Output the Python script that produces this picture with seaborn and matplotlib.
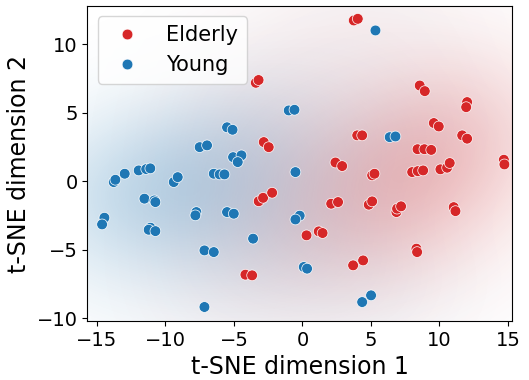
import numpy as np
import pandas as pd
import matplotlib
matplotlib.use('Agg')
import matplotlib.pyplot as plt
from matplotlib.colors import to_rgb
import seaborn as sns

# t-SNE coordinates
elderly_x = [-3.4, -3.2, 3.75, 4.04, 8.56, 8.93, 12.02, 11.95, 9.59, 9.95,
             4.0, 4.36, 11.66, 12.02, 8.4, 8.9, 9.4, -2.82, -2.46, 2.41, 2.9,
             5.09, 5.26, 8.01, 8.42, 8.81, 10.07, 10.56, 10.75, 14.7, 14.74,
             -3.19, -2.87, -2.21, 2.1, 2.6, 4.84, 5.09, 6.86, 6.91, 7.2,
             11.04, 11.17, 0.3, 1.19, 1.47, 8.32, 8.37, 3.7, 4.43, -4.16, -3.67]
elderly_y = [7.2, 7.4, 11.75, 11.87, 7.0, 6.59, 5.79, 5.42, 4.26, 4.01,
             3.36, 3.36, 3.36, 3.12, 2.35, 2.35, 2.3, 2.87, 2.5, 1.38, 1.12,
             0.44, 0.56, 0.68, 0.75, 0.8, 0.88, 1.0, 1.34, 1.58, 1.24,
             -1.45, -1.2, -0.83, -1.63, -1.51, -1.7, -1.46, -2.24, -1.99, -1.82,
             -1.88, -2.17, -3.94, -3.65, -3.77, -4.91, -5.16, -6.13, -5.77, -6.81, -6.86]

young_x = [-1.0, -0.58, 5.33, -5.5, -5.1, -7.5, -6.96, -5.06, -4.45, -4.72,
           6.37, 6.79, -13.77, -13.65, -12.97, -11.95, -11.4, -11.1, -9.39, -9.1,
           -6.47, -6.04, -5.69, -0.51, -11.53, -10.8, -10.73, -14.45, -14.62,
           -7.74, -7.81, -5.5, -5.01, -0.2, -0.51, -11.09, -11.22, -10.73, -3.6,
           -7.15, -6.47, 0.1, 0.34, -7.15, 4.36, 5.01]
young_y = [5.18, 5.23, 11.02, 3.95, 3.77, 2.5, 2.63, 1.77, 1.9, 1.41,
           3.23, 3.28, -0.05, 0.12, 0.56, 0.8, 0.9, 0.95, -0.05, 0.31,
           0.56, 0.51, 0.51, 0.68, -1.26, -1.39, -1.51, -2.65, -3.14,
           -2.24, -2.48, -2.24, -2.36, -2.5, -2.78, -3.38, -3.53, -3.63, -4.18,
           -5.04, -5.16, -6.25, -6.37, -9.17, -8.81, -8.32]

groups = ['Elderly', 'Young']
colors = {'Elderly': '#d62728', 'Young': '#1f77b4'}

df = pd.DataFrame({
    'x': elderly_x + young_x,
    'y': elderly_y + young_y,
    'group': ['Elderly'] * len(elderly_x) + ['Young'] * len(young_x),
})

XLIM = (-15.7, 15.3)
YLIM = (-10.2, 12.8)


def kde_grid(xs, ys, gx, gy, adjust=1.7):
    # gaussian kde with scott bandwidth, same idea as scipy's gaussian_kde
    pts = np.vstack([xs, ys])
    n = pts.shape[1]
    factor = n ** (-1.0 / 6) * adjust
    cov = np.cov(pts) * factor ** 2
    inv = np.linalg.inv(cov)
    X, Y = np.meshgrid(gx, gy)
    dens = np.zeros_like(X)
    for px, py in pts.T:
        dx, dy = X - px, Y - py
        dens += np.exp(-0.5 * (inv[0, 0] * dx * dx + 2 * inv[0, 1] * dx * dy
                               + inv[1, 1] * dy * dy))
    return dens / dens.max()


fig = plt.figure(figsize=(5.29, 3.8), dpi=100)
ax = fig.add_axes([0.165, 0.155, 0.803, 0.829])

# soft density shading behind the points
gx = np.linspace(XLIM[0], XLIM[1], 300)
gy = np.linspace(YLIM[0], YLIM[1], 220)
for g in groups:
    sub = df[df['group'] == g]
    d = kde_grid(sub['x'].values, sub['y'].values, gx, gy)
    rgba = np.zeros(d.shape + (4,))
    rgba[..., :3] = to_rgb(colors[g])
    rgba[..., 3] = 0.32 * d ** 0.8
    ax.imshow(rgba, extent=(XLIM[0], XLIM[1], YLIM[0], YLIM[1]),
              origin='lower', aspect='auto', interpolation='bilinear',
              zorder=0)

sns.scatterplot(data=df, x='x', y='y', hue='group', hue_order=groups,
                palette=colors, s=60, edgecolor='white', linewidth=0.5,
                alpha=1, ax=ax, zorder=2)

ax.set_xlim(*XLIM)
ax.set_ylim(*YLIM)
ax.set_xticks([-15, -10, -5, 0, 5, 10, 15])
ax.set_yticks([-10, -5, 0, 5, 10])
ax.tick_params(labelsize=14)
ax.set_xlabel('t-SNE dimension 1', fontsize=17)
ax.set_ylabel('t-SNE dimension 2', fontsize=17)
ax.legend(loc='upper left', fontsize=15, handletextpad=0.9,
          borderpad=0.4, frameon=True)

plt.savefig('out.png', dpi=100)
